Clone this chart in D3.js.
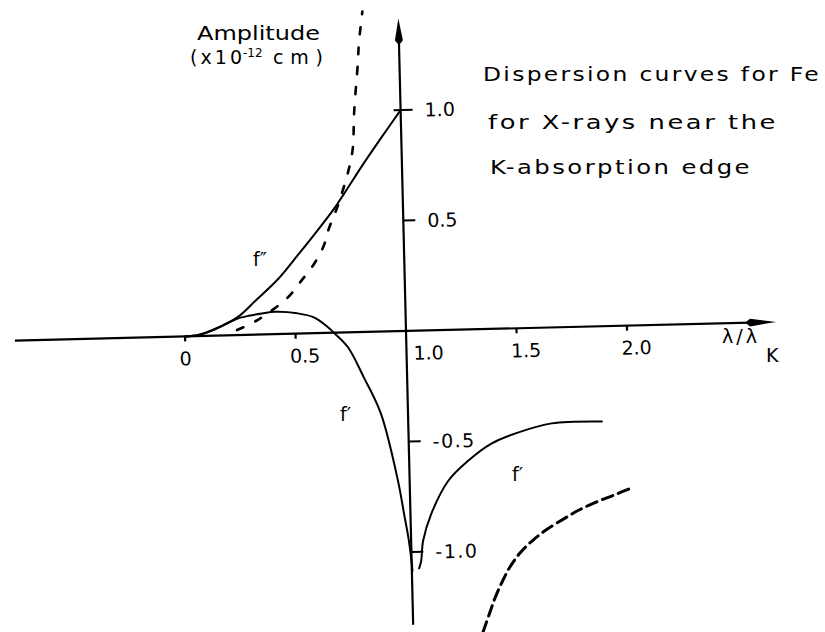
<!DOCTYPE html>
<html>
<head>
<meta charset="utf-8">
<script src="https://cdn.jsdelivr.net/npm/d3@7"></script>
<style>
  html, body { margin: 0; padding: 0; background: #fff; }
  svg { display: block; }
  text { font-family: "DejaVu Sans", sans-serif; fill: #000; }
</style>
</head>
<body>
<svg id="chart" width="825" height="632"></svg>
<script>
// Dispersion of Fe near the K edge: [λ/λK, amplitude ×10^-12 cm]
const fDoublePrime = [
  [0, 0], [0.06, 0.005], [0.127, 0.026], [0.238, 0.08], [0.326, 0.157],
  [0.424, 0.246], [0.517, 0.353], [0.592, 0.442], [0.686, 0.558],
  [0.733, 0.625], [0.828, 0.764], [0.908, 0.875], [1.0, 1.0]
];
const fPrimeBelowEdge = [
  [0, 0], [0.06, 0.005], [0.127, 0.026], [0.2, 0.058], [0.24, 0.075],
  [0.29, 0.086], [0.35, 0.095], [0.411, 0.101], [0.51, 0.092],
  [0.585, 0.072], [0.645, 0.028], [0.674, 0.0], [0.735, -0.066],
  [0.804, -0.205], [0.877, -0.37], [0.947, -0.676], [0.971, -0.827],
  [0.99, -0.95], [1.003, -1.085]
];
const fPrimeAboveEdge = [
  [1.033, -1.075], [1.043, -1.043], [1.054, -0.952], [1.094, -0.83],
  [1.175, -0.682], [1.268, -0.593], [1.374, -0.519], [1.498, -0.471],
  [1.649, -0.434], [1.876, -0.431]
];
const fDoublePrimeUndamped = [
  [0.236, 0.023], [0.329, 0.066], [0.467, 0.163], [0.528, 0.234],
  [0.589, 0.31], [0.636, 0.391], [0.661, 0.468], [0.705, 0.573],
  [0.759, 0.738], [0.779, 0.829], [0.79, 1.0], [0.812, 1.22],
  [0.819, 1.31], [0.838, 1.45]
];
const fPrimeUndamped = [
  [1.315, -1.371], [1.344, -1.294], [1.373, -1.218], [1.407, -1.146],
  [1.444, -1.079], [1.491, -1.017], [1.547, -0.964], [1.611, -0.916],
  [1.699, -0.864], [1.763, -0.829], [1.841, -0.795], [1.923, -0.765],
  [2.001, -0.735]
];

const xTickValues = [0, 0.5, 1, 1.5, 2];
const xTickLabels = ["0", "0.5", "1.0", "1.5", "2.0"];
const yTickValues = [1, 0.5, -0.5, -1];
const yTickLabels = ["1.0", "0.5", "-0.5", "-1.0"];

const titleLines = ["Dispersion curves for Fe", "for X-rays near the", "K-absorption edge"];

const svg = d3.select("#chart");
svg.append("rect").attr("width", 825).attr("height", 632).attr("fill", "#fff");

const x = d3.scaleLinear().domain([0, 2]).range([185, 627]);
const y = d3.scaleLinear().domain([0, 1]).range([331, 110]);
const x0 = x(1), y0 = y(0);

// the whole diagram sits slightly askew on the page
const plot = svg.append("g").attr("transform", `rotate(-1.4, ${x0}, ${y0})`);

// axes with arrowheads
plot.append("line")
  .attr("x1", x(-0.77)).attr("y1", y0).attr("x2", x(2.56)).attr("y2", y0)
  .attr("stroke", "#000").attr("stroke-width", 2.2);
plot.append("line")
  .attr("x1", x0).attr("y1", y(-1.33)).attr("x2", x0).attr("y2", y(1.3))
  .attr("stroke", "#000").attr("stroke-width", 2.2);

const xTip = x(2.675), yTip = y(1.415);
plot.append("path")
  .attr("d", `M${xTip},${y0} L${xTip - 26},${y0 - 3.8} L${xTip - 31},${y0} L${xTip - 26},${y0 + 3.8} Z`)
  .attr("fill", "#000");
plot.append("path")
  .attr("d", `M${x0},${yTip} L${x0 + 4},${yTip + 22} L${x0},${yTip + 27} L${x0 - 4},${yTip + 22} Z`)
  .attr("fill", "#000");

// x ticks (the 1.0 position is the vertical axis itself)
plot.selectAll(".xtick").data(xTickValues.filter(v => v !== 1)).join("line")
  .attr("class", "xtick")
  .attr("x1", d => x(d)).attr("x2", d => x(d))
  .attr("y1", y0).attr("y2", y0 + 5)
  .attr("stroke", "#000").attr("stroke-width", 2.2);

plot.selectAll(".xlab").data(xTickValues).join("text")
  .attr("class", "xlab")
  .attr("x", d => d === 1 ? x(d) + 7 : x(d) - 6)
  .attr("y", y0 + 29)
  .attr("font-size", 19)
  .text((d, i) => xTickLabels[i]);

// y ticks to the right of the axis
plot.selectAll(".ytick").data(yTickValues).join("line")
  .attr("class", "ytick")
  .attr("x1", d => d === 1 ? x0 - 7 : x0).attr("x2", x0 + 12)
  .attr("y1", d => y(d)).attr("y2", d => y(d))
  .attr("stroke", "#000").attr("stroke-width", 2);

plot.selectAll(".ylab").data(yTickValues).join("text")
  .attr("class", "ylab")
  .attr("x", x0 + 24)
  .attr("y", d => y(d) + 7)
  .attr("font-size", 19)
  .attr("letter-spacing", d => d < 0 ? 1.5 : 0)
  .text((d, i) => yTickLabels[i]);

// curves
const line = d3.line()
  .x(d => x(d[0])).y(d => y(d[1]))
  .curve(d3.curveCatmullRom.alpha(0.5));

const curves = [
  { data: fDoublePrime, dash: null, w: 2 },
  { data: fPrimeBelowEdge, dash: null, w: 2 },
  { data: fPrimeAboveEdge, dash: null, w: 2 },
  { data: fDoublePrimeUndamped, dash: "7,13", w: 2.6 },
  { data: fPrimeUndamped, dash: "11,6", w: 3 }
];
plot.selectAll(".curve").data(curves).join("path")
  .attr("class", "curve")
  .attr("d", d => line(d.data))
  .attr("fill", "none")
  .attr("stroke", "#000")
  .attr("stroke-width", d => d.w)
  .attr("stroke-linecap", "round")
  .attr("stroke-dasharray", d => d.dash);

// curve names
const curveLabels = [
  { t: "f\u2033", px: 253, py: 266 },
  { t: "f\u2032", px: 340, py: 421 },
  { t: "f\u2032", px: 512, py: 481 }
];
svg.selectAll(".clab").data(curveLabels).join("text")
  .attr("class", "clab")
  .attr("x", d => d.px).attr("y", d => d.py)
  .attr("font-size", 19)
  .text(d => d.t);

// axis titles
svg.append("text").attr("x", 197).attr("y", 40).attr("font-size", 19)
  .attr("textLength", 123).attr("lengthAdjust", "spacingAndGlyphs").text("Amplitude");
const unit = svg.append("text").attr("y", 64).attr("font-size", 19);
unit.append("tspan").attr("x", 190).attr("textLength", 52).attr("lengthAdjust", "spacing").text("(x10");
unit.append("tspan").attr("x", 243).attr("dy", -7).attr("font-size", 12).text("-12");
unit.append("tspan").attr("x", 273).attr("dy", 7).attr("textLength", 50).attr("lengthAdjust", "spacing").text("cm)");

const xTitle = svg.append("text").attr("x", 722).attr("y", 343).attr("font-size", 19);
xTitle.append("tspan").attr("letter-spacing", 3).text("\u03bb/\u03bb");
xTitle.append("tspan").attr("x", 766).attr("dy", 19).text("K");

// title block
const titleBox = [
  { x: 483, y: 81, len: 338 },
  { x: 488, y: 129, len: 290 },
  { x: 490, y: 174, len: 262 }
];
svg.selectAll(".title").data(titleLines).join("text")
  .attr("class", "title")
  .attr("x", (d, i) => titleBox[i].x)
  .attr("y", (d, i) => titleBox[i].y)
  .attr("font-size", 20)
  .attr("letter-spacing", 2)
  .attr("textLength", (d, i) => titleBox[i].len)
  .attr("lengthAdjust", "spacingAndGlyphs")
  .text(d => d);
</script>
</body>
</html>
